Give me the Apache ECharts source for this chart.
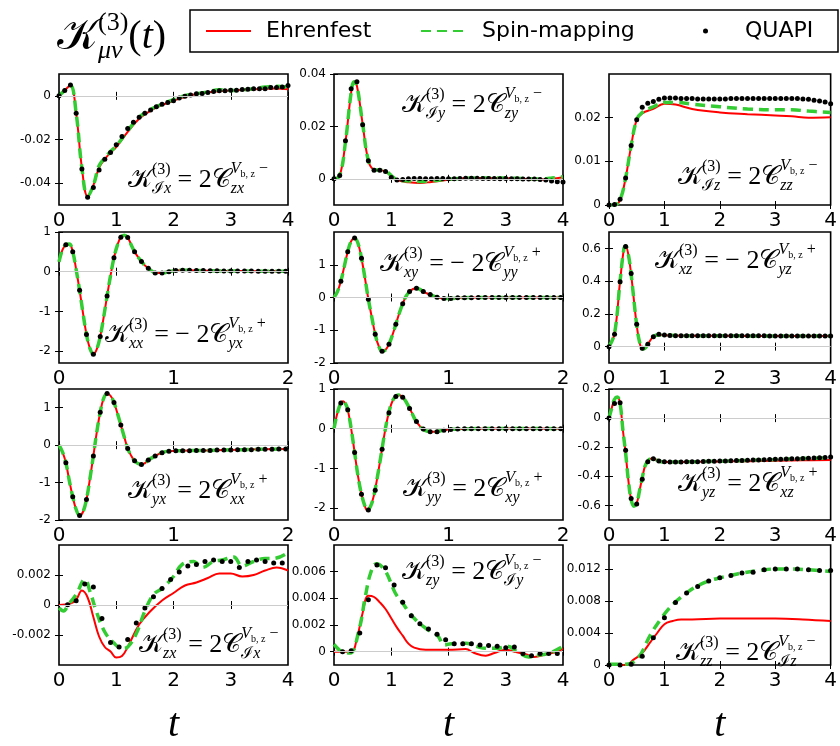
<!DOCTYPE html>
<html>
<head>
<meta charset="utf-8">
<script src="https://cdn.jsdelivr.net/npm/echarts@6/dist/echarts.min.js"></script>
<style>
  html, body { margin: 0; background: #fff; }
  #chart { width: 840px; height: 746px; }
</style>
</head>
<body>
<div id="chart"></div>
<script>
// sample times of the QUAPI points
const steps = (t0, dt, n) => Array.from({length: n}, (_, i) => +(t0 + i * dt).toFixed(2))
const tq_01 = steps(0, 0.1, 41)
const tq_06 = steps(0.06, 0.06, 33)
const tq_15 = steps(0.15, 0.15, 26)
const tq_20 = steps(0, 0.2, 21)

// ---- row 1 ----
const t_Ix = [0, 0.1, 0.2, 0.3, 0.4, 0.5, 0.6, 0.7, 0.8, 0.9, 1.0, 1.2, 1.4, 1.6, 1.8, 2.0, 2.2, 2.4, 2.6, 2.8, 3.0, 3.2, 3.4, 3.6, 3.8, 4.0]
const ehr_Ix = [0, 0.0025, 0.0048, -0.008, -0.033, -0.046, -0.041, -0.033, -0.029, -0.026, -0.0235, -0.0165, -0.0105, -0.0068, -0.0042, -0.0022, -0.0005, 0.0008, 0.0016, 0.0021, 0.0024, 0.0027, 0.003, 0.0033, 0.0034, 0.003]
const spin_Ix = [0, 0.0025, 0.0048, -0.008, -0.033, -0.046, -0.041, -0.032, -0.0285, -0.0255, -0.023, -0.016, -0.0098, -0.0062, -0.0038, -0.0018, 0.0001, 0.0009, 0.0018, 0.0028, 0.0025, 0.0027, 0.0032, 0.004, 0.0044, 0.004]
const quapi_Ix = [0, 0.0025, 0.005, -0.008, -0.0335, -0.0465, -0.042, -0.034, -0.029, -0.026,
  -0.0224, -0.0186, -0.015, -0.0121, -0.0098, -0.008, -0.0065, -0.005, -0.0039, -0.003,
  -0.0022, -0.001, -0.0002, 0.0004, 0.0009, 0.0011, 0.0015, 0.002, 0.0023, 0.0023,
  0.0026, 0.0026, 0.0029, 0.003, 0.0032, 0.0032, 0.0033, 0.0038, 0.0038, 0.0041, 0.0047]

const t_Iy = [0, 0.1, 0.2, 0.3, 0.35, 0.4, 0.5, 0.6, 0.7, 0.8, 0.9, 1.0, 1.1, 1.3, 1.5, 1.7, 2.0, 2.3, 2.6, 3.0, 3.3, 3.6, 3.8, 4.0]
const ehr_Iy = [0, 0.0012, 0.014, 0.033, 0.037, 0.0355, 0.021, 0.007, 0.0035, 0.0033, 0.0028, 0.001, -0.0005, -0.0013, -0.0016, -0.0012, -0.0004, 0.0002, 0.0003, 0.0002, 0.0, -0.0003, 0.0, 0.0006]
const spin_Iy = [0, 0.0012, 0.014, 0.033, 0.037, 0.0355, 0.021, 0.007, 0.0035, 0.0033, 0.003, 0.0012, -0.0003, -0.0008, -0.001, -0.0008, -0.0002, 0.0002, 0.0003, 0.0003, 0.0001, -0.0001, 0.0003, 0.0008]
const quapi_Iy = [0, 0.0013, 0.0145, 0.0344, 0.037, 0.0206, 0.0069, 0.0033, 0.0033, 0.0028,
  0.0005, -0.0005, -0.0003, 0, 0.0001, 0.0001, 0, 0, 0.0001, 0.0001,
  0, 0, 0.0001, 0.0002, 0.0002, 0.0002, 0.0001, 0.0001, 0.0001, 0,
  0.0001, 0, 0, -0.0001, -0.0001, -0.0001, -0.0003, -0.0005, -0.0008, -0.0011, -0.0012]

const t_Iz = [0, 0.1, 0.2, 0.3, 0.4, 0.5, 0.6, 0.8, 1.0, 1.2, 1.5, 2.0, 2.5, 3.0, 3.3, 3.6, 4.0]
const ehr_Iz = [0, 0, 0.0012, 0.0062, 0.0136, 0.0195, 0.021, 0.022, 0.0232, 0.023, 0.022, 0.0212, 0.0208, 0.0205, 0.0203, 0.02, 0.0201]
const spin_Iz = [0, 0, 0.0012, 0.0062, 0.0136, 0.0195, 0.0212, 0.0225, 0.0235, 0.0235, 0.0231, 0.0225, 0.022, 0.0218, 0.0218, 0.0215, 0.0212]
const quapi_Iz = [0, 0.0001, 0.0013, 0.0062, 0.0136, 0.0195, 0.0224, 0.0233, 0.0237, 0.0242,
  0.0245, 0.0245, 0.0245, 0.0244, 0.0244, 0.0244, 0.0243, 0.0243, 0.0243, 0.0243,
  0.0243, 0.0243, 0.0244, 0.0244, 0.0244, 0.0244, 0.0244, 0.0244, 0.0244, 0.0244,
  0.0244, 0.0244, 0.0244, 0.0244, 0.0244, 0.0243, 0.0242, 0.024, 0.0238, 0.0236, 0.0232]

// ---- row 2 ----
const t_xx = [0, 0.03, 0.06, 0.09, 0.12, 0.15, 0.18, 0.21, 0.24, 0.27, 0.3, 0.33, 0.36, 0.39, 0.42, 0.45, 0.48, 0.51, 0.54, 0.57, 0.6, 0.63, 0.66, 0.69, 0.72, 0.75, 0.78, 0.81, 0.84, 0.9, 0.96, 1.02, 1.1, 1.3, 1.6, 2.0]
const ehr_xx = [0.25, 0.55, 0.68, 0.7, 0.5, 0.05, -0.47, -1.05, -1.58, -1.93, -2.08, -1.95, -1.63, -1.15, -0.61, -0.1, 0.35, 0.67, 0.87, 0.92, 0.86, 0.68, 0.5, 0.37, 0.26, 0.16, 0.085, 0.02, -0.03, -0.03, 0, 0.03, 0.035, 0.025, 0.015, 0.01]
const spin_xx = [0.25, 0.55, 0.68, 0.7, 0.5, 0.05, -0.47, -1.05, -1.58, -1.93, -2.08, -1.95, -1.63, -1.15, -0.61, -0.1, 0.35, 0.67, 0.87, 0.92, 0.86, 0.68, 0.5, 0.37, 0.26, 0.16, 0.085, 0.02, -0.03, -0.03, 0, 0.03, 0.035, 0.025, 0.015, 0.01]
const quapi_xx = [0.68, 0.5, -0.47, -1.58, -2.08, -1.63, -0.61, 0.35, 0.87, 0.86,
  0.5, 0.26, 0.085, -0.03, -0.03, 0, 0.03, 0.035, 0.035, 0.03,
  0.03, 0.025, 0.025, 0.02, 0.02, 0.015, 0.015, 0.015, 0.01, 0.01, 0.01, 0.01, 0.01]

const t_xy = [0, 0.03, 0.06, 0.09, 0.12, 0.15, 0.18, 0.21, 0.24, 0.27, 0.3, 0.33, 0.36, 0.39, 0.42, 0.45, 0.48, 0.51, 0.54, 0.57, 0.6, 0.63, 0.66, 0.69, 0.72, 0.75, 0.78, 0.81, 0.84, 0.9, 0.96, 1.02, 1.1, 1.3, 1.6, 2.0]
const ehr_xy = [0, 0.18, 0.5, 0.95, 1.4, 1.72, 1.82, 1.65, 1.2, 0.6, -0.05, -0.6, -1.12, -1.48, -1.64, -1.6, -1.43, -1.15, -0.82, -0.48, -0.19, 0.04, 0.18, 0.26, 0.28, 0.25, 0.18, 0.13, 0.09, 0.01, -0.03, -0.03, -0.01, 0, 0, 0]
const spin_xy = [0, 0.18, 0.5, 0.95, 1.4, 1.72, 1.82, 1.65, 1.2, 0.6, -0.05, -0.6, -1.12, -1.48, -1.64, -1.6, -1.43, -1.15, -0.82, -0.48, -0.19, 0.04, 0.18, 0.26, 0.28, 0.25, 0.18, 0.13, 0.09, 0.01, -0.03, -0.03, -0.01, 0, 0, 0]
const quapi_xy = [0.5, 1.4, 1.82, 1.2, -0.05, -1.12, -1.64, -1.43, -0.82, -0.19,
  0.18, 0.28, 0.18, 0.09, 0.01, -0.03, -0.03, -0.01, -0.01, -0.005,
  0, 0, 0, 0, 0, 0, 0, 0, 0, 0, 0, 0, 0]

const t_xz = [0, 0.1, 0.2, 0.27, 0.3, 0.35, 0.4, 0.5, 0.55, 0.6, 0.65, 0.7, 0.8, 0.9, 1.0, 1.5, 2.0, 3.0, 4.0]
const ehr_xz = [0, 0.08, 0.4, 0.6, 0.615, 0.56, 0.44, 0.13, 0.03, -0.015, -0.01, 0.015, 0.06, 0.072, 0.07, 0.066, 0.066, 0.065, 0.065]
const spin_xz = [0, 0.08, 0.4, 0.6, 0.615, 0.56, 0.44, 0.13, 0.03, -0.015, -0.01, 0.015, 0.06, 0.072, 0.07, 0.066, 0.066, 0.065, 0.065]
const quapi_xz = [0, 0.075, 0.396, 0.612, 0.447, 0.137, -0.01, 0.014, 0.06, 0.075,
  0.071, 0.068, 0.067, 0.067, 0.067, 0.067, 0.067, 0.067, 0.067, 0.066,
  0.066, 0.066, 0.066, 0.066, 0.066, 0.066, 0.066, 0.066, 0.066, 0.065,
  0.065, 0.065, 0.065, 0.065, 0.065, 0.065, 0.065, 0.065, 0.065, 0.065, 0.065]

// ---- row 3 ----
const t_yx = [0, 0.03, 0.06, 0.09, 0.12, 0.15, 0.18, 0.21, 0.24, 0.27, 0.3, 0.33, 0.36, 0.39, 0.42, 0.45, 0.48, 0.51, 0.54, 0.57, 0.6, 0.63, 0.66, 0.69, 0.72, 0.75, 0.78, 0.84, 0.9, 0.96, 1.05, 1.3, 1.6, 2.0]
const ehr_yx = [0, -0.18, -0.47, -0.95, -1.38, -1.72, -1.88, -1.78, -1.45, -0.9, -0.29, 0.35, 0.88, 1.25, 1.38, 1.32, 1.14, 0.85, 0.54, 0.22, -0.09, -0.28, -0.42, -0.49, -0.52, -0.48, -0.4, -0.29, -0.2, -0.16, -0.15, -0.14, -0.12, -0.1]
const spin_yx = [0, -0.18, -0.47, -0.95, -1.38, -1.72, -1.88, -1.78, -1.45, -0.9, -0.29, 0.35, 0.88, 1.25, 1.38, 1.32, 1.14, 0.85, 0.54, 0.22, -0.09, -0.28, -0.42, -0.49, -0.52, -0.48, -0.4, -0.29, -0.2, -0.16, -0.15, -0.14, -0.12, -0.1]
const quapi_yx = [-0.47, -1.38, -1.88, -1.45, -0.29, 0.88, 1.38, 1.14, 0.54, -0.09,
  -0.42, -0.52, -0.4, -0.29, -0.2, -0.16, -0.15, -0.15, -0.15, -0.14,
  -0.14, -0.14, -0.13, -0.13, -0.13, -0.12, -0.12, -0.12, -0.11, -0.11, -0.11, -0.1, -0.1]

const t_yy = [0, 0.03, 0.06, 0.08, 0.1, 0.12, 0.15, 0.18, 0.21, 0.24, 0.27, 0.29, 0.32, 0.35, 0.38, 0.41, 0.44, 0.47, 0.5, 0.53, 0.56, 0.59, 0.62, 0.65, 0.68, 0.71, 0.74, 0.77, 0.8, 0.84, 0.89, 0.95, 1.0, 1.2, 1.5, 2.0]
const ehr_yy = [0, 0.4, 0.65, 0.69, 0.63, 0.48, 0, -0.6, -1.2, -1.65, -1.95, -2.06, -1.95, -1.66, -1.2, -0.68, -0.15, 0.3, 0.62, 0.79, 0.85, 0.82, 0.72, 0.57, 0.4, 0.22, 0.1, 0, -0.05, -0.075, -0.075, -0.04, -0.02, 0, 0.005, 0]
const spin_yy = [0, 0.4, 0.65, 0.69, 0.63, 0.48, 0, -0.6, -1.2, -1.65, -1.95, -2.06, -1.95, -1.66, -1.2, -0.68, -0.15, 0.3, 0.62, 0.79, 0.85, 0.82, 0.72, 0.57, 0.4, 0.22, 0.1, 0, -0.05, -0.075, -0.075, -0.04, -0.02, 0, 0.005, 0]
const quapi_yy = [0.65, 0.48, -0.6, -1.65, -2.05, -1.55, -0.52, 0.4, 0.81, 0.79,
  0.51, 0.18, -0.01, -0.075, -0.075, -0.04, -0.02, -0.01, 0, 0,
  0, 0, 0, 0, 0, 0, 0, 0, 0, 0, 0, 0, 0]

const t_yz = [0, 0.05, 0.1, 0.15, 0.2, 0.25, 0.3, 0.35, 0.4, 0.45, 0.5, 0.55, 0.6, 0.65, 0.7, 0.75, 0.8, 0.9, 1.0, 1.5, 2.0, 2.5, 3.0, 3.5, 4.0]
const ehr_yz = [0, 0.07, 0.13, 0.145, 0.1, -0.08, -0.24, -0.43, -0.56, -0.605, -0.585, -0.5, -0.41, -0.33, -0.295, -0.28, -0.28, -0.295, -0.302, -0.3, -0.298, -0.296, -0.293, -0.29, -0.288]
const spin_yz = [0, 0.07, 0.13, 0.145, 0.1, -0.08, -0.24, -0.43, -0.56, -0.605, -0.585, -0.5, -0.41, -0.33, -0.295, -0.28, -0.28, -0.295, -0.302, -0.3, -0.296, -0.29, -0.285, -0.278, -0.272]
const quapi_yz = [0, 0.1, 0.105, -0.22, -0.552, -0.59, -0.42, -0.3, -0.28, -0.295,
  -0.3, -0.302, -0.302, -0.301, -0.3, -0.3, -0.299, -0.298, -0.297, -0.296,
  -0.295, -0.294, -0.293, -0.292, -0.291, -0.29, -0.288, -0.287, -0.286, -0.285,
  -0.283, -0.282, -0.281, -0.28, -0.279, -0.278, -0.276, -0.274, -0.272, -0.27, -0.268]

// ---- row 4 ----
const tE_zx = [0, 0.2, 0.3, 0.4, 0.5, 0.6, 0.7, 0.8, 0.9, 1.0, 1.1, 1.2, 1.4, 1.6, 1.8, 2.0, 2.2, 2.4, 2.6, 2.8, 3.0, 3.2, 3.4, 3.6, 3.8, 4.0]
const ehr_zx = [0, 0.0001, 0.00035, 0.00096, 0.0005, -0.0008, -0.0021, -0.0028, -0.0031, -0.0035, -0.0034, -0.0028, -0.0013, -0.0004, 0.0003, 0.0008, 0.0013, 0.0015, 0.0018, 0.0021, 0.0021, 0.0019, 0.002, 0.0023, 0.0025, 0.0023]
const tS_zx = [0, 0.08, 0.16, 0.3, 0.45, 0.55, 0.65, 0.8, 0.95, 1.1, 1.2, 1.35, 1.5, 1.65, 1.8, 2.0, 2.15, 2.35, 2.5, 2.7, 2.85, 3.05, 3.2, 3.4, 3.6, 3.75, 4.0]
const spin_zx = [-0.0002, -0.0004, 0, 0.0007, 0.0017, 0.0008, -0.0004, -0.0018, -0.0025, -0.0029, -0.0028, -0.0019, -0.0004, 0.0007, 0.0011, 0.0019, 0.0027, 0.0029, 0.0025, 0.0029, 0.003, 0.0032, 0.0026, 0.0029, 0.0031, 0.0031, 0.0035]
const quapi_zx = [0.00002, 0.00029, 0.0014, 0.0012, -0.0009, -0.0025, -0.0028, -0.0023, -0.0012, -0.0002,
  0.00055, 0.0011, 0.0017, 0.0022, 0.0026, 0.0027, 0.0029, 0.003, 0.0029, 0.0029,
  0.0025, 0.0029, 0.003, 0.0029, 0.0028, 0.0028]

const tE_zy = [0, 0.3, 0.4, 0.5, 0.6, 0.7, 0.8, 0.9, 1.0, 1.1, 1.2, 1.3, 1.4, 1.6, 2.0, 2.3, 2.45, 2.65, 2.8, 3.0, 3.15, 3.35, 3.5, 3.7, 3.9, 4.0]
const ehr_zy = [0, 0, 0.001, 0.0029, 0.0042, 0.0041, 0.0037, 0.0032, 0.0025, 0.0018, 0.0012, 0.0006, 0.0003, 0.00014, 0.00014, 0.0002, -0.0001, -0.0003, -0.0001, 0.00014, 0, -0.0002, -0.0004, -0.0002, 0, 0.00025]
const tS_zy = [0, 0.09, 0.15, 0.28, 0.43, 0.55, 0.64, 0.74, 0.89, 1.07, 1.19, 1.32, 1.47, 1.62, 1.81, 1.93, 2.05, 2.17, 2.3, 2.48, 2.66, 2.85, 3.03, 3.2, 3.4, 3.52, 3.77, 4.0]
const spin_zy = [0.00055, 0.00014, 0, -0.0001, 0.0015, 0.0042, 0.0059, 0.0066, 0.0061, 0.0044, 0.0037, 0.0029, 0.0022, 0.0017, 0.0012, 0.0005, 0.0006, 0.0005, 0.00064, 0.0004, 0.00025, 0.00025, 0.0004, 0, -0.0004, -0.0003, -0.0001, 0.0004]
const quapi_zy = [0, 0.00007, 0.0014, 0.0039, 0.0065, 0.0063, 0.005, 0.0037, 0.0027, 0.0021,
  0.0017, 0.0013, 0.0009, 0.0006, 0.0006, 0.0006, 0.0005, 0.00046, 0.0004, 0.0003,
  0.00035, -0.00014, -0.0003, -0.00014, -0.00014, -0.00014]

const tE_zz = [0, 0.3, 0.45, 0.6, 0.75, 0.87, 1.0, 1.15, 1.3, 1.5, 2.0, 2.5, 3.0, 3.5, 4.0]
const ehr_zz = [0, 0, 0.0007, 0.0015, 0.0029, 0.004, 0.0051, 0.0055, 0.0057, 0.0057, 0.0058, 0.0058, 0.0058, 0.0057, 0.0055]
const tS_zz = [0, 0.3, 0.4, 0.55, 0.75, 0.93, 1.05, 1.2, 1.4, 1.6, 1.8, 2.0, 2.2, 2.4, 2.7, 3.0, 3.3, 3.6, 4.0]
const spin_zz = [0.0001, 0.0001, 0.0002, 0.0011, 0.0038, 0.0057, 0.0068, 0.0079, 0.009, 0.0099, 0.0105, 0.0109, 0.0112, 0.0115, 0.0118, 0.012, 0.012, 0.0119, 0.0117]
const quapi_zz = [0, 0, 0.0001, 0.0011, 0.0034, 0.0059, 0.0078, 0.009, 0.0098, 0.0105,
  0.0109, 0.0112, 0.0115, 0.0116, 0.0119, 0.012, 0.012, 0.012, 0.0119, 0.0118, 0.0118]

// y tick labels of each panel
const yt_Ix = [-0.04, -0.02, 0], yt_Iy = [0, 0.02, 0.04], yt_Iz = [0, 0.01, 0.02]
const yt_unit = [-2, -1, 0, 1], yt_xz = [0, 0.2, 0.4, 0.6], yt_yz = [-0.6, -0.4, -0.2, 0, 0.2]
const yt_zx = [-0.002, 0, 0.002], yt_zy = [0, 0.002, 0.004, 0.006], yt_zz = [0, 0.004, 0.008, 0.012]

const panels = [
  {xMax: 4, y: [-0.05, 0.01], yt: yt_Ix, zero: true, tE: t_Ix, e: ehr_Ix, tS: t_Ix, s: spin_Ix, tQ: tq_01, q: quapi_Ix},
  {xMax: 4, y: [-0.01, 0.04], yt: yt_Iy, zero: true, tE: t_Iy, e: ehr_Iy, tS: t_Iy, s: spin_Iy, tQ: tq_01, q: quapi_Iy},
  {xMax: 4, y: [0, 0.03], yt: yt_Iz, zero: false, tE: t_Iz, e: ehr_Iz, tS: t_Iz, s: spin_Iz, tQ: tq_01, q: quapi_Iz},
  {xMax: 2, y: [-2.3, 1], yt: yt_unit, zero: true, tE: t_xx, e: ehr_xx, tS: t_xx, s: spin_xx, tQ: tq_06, q: quapi_xx},
  {xMax: 2, y: [-2, 2], yt: yt_unit, zero: true, tE: t_xy, e: ehr_xy, tS: t_xy, s: spin_xy, tQ: tq_06, q: quapi_xy},
  {xMax: 4, y: [-0.1, 0.7], yt: yt_xz, zero: true, tE: t_xz, e: ehr_xz, tS: t_xz, s: spin_xz, tQ: tq_01, q: quapi_xz},
  {xMax: 2, y: [-2, 1.5], yt: yt_unit, zero: true, tE: t_yx, e: ehr_yx, tS: t_yx, s: spin_yx, tQ: tq_06, q: quapi_yx},
  {xMax: 2, y: [-2.3, 1], yt: yt_unit, zero: true, tE: t_yy, e: ehr_yy, tS: t_yy, s: spin_yy, tQ: tq_06, q: quapi_yy},
  {xMax: 4, y: [-0.7, 0.2], yt: yt_yz, zero: true, tE: t_yz, e: ehr_yz, tS: t_yz, s: spin_yz, tQ: tq_01, q: quapi_yz},
  {xMax: 4, y: [-0.004, 0.004], yt: yt_zx, zero: true, tE: tE_zx, e: ehr_zx, tS: tS_zx, s: spin_zx, tQ: tq_15, q: quapi_zx},
  {xMax: 4, y: [-0.001, 0.008], yt: yt_zy, zero: true, tE: tE_zy, e: ehr_zy, tS: tS_zy, s: spin_zy, tQ: tq_15, q: quapi_zy},
  {xMax: 4, y: [0, 0.015], yt: yt_zz, zero: false, tE: tE_zz, e: ehr_zz, tS: tS_zz, s: spin_zz, tQ: tq_20, q: quapi_zz}
]

// panel labels: K subscript, sign, C subscript, sign of V, left x, centre y
const notes = [
  ['ℐx', '', 'zx', '−', 128, 180], ['ℐy', '', 'zy', '−', 402, 105], ['ℐz', '', 'zz', '−', 678, 177],
  ['xx', '−', 'yx', '+', 105, 335], ['xy', '−', 'yy', '+', 380, 264], ['xz', '−', 'yz', '+', 655, 261],
  ['yx', '', 'xx', '+', 128, 491], ['yy', '', 'xy', '+', 403, 489], ['yz', '', 'xz', '+', 678, 484],
  ['zx', '', 'ℐx', '−', 139, 645], ['zy', '', 'ℐy', '−', 402, 572], ['zz', '', 'ℐz', '−', 676, 653]
]

const RED = '#ff0000', GREEN = '#33cc33'
const SERIF = '"Liberation Serif", "DejaVu Serif", serif'
const LEFT = [59, 334, 609], TOP = [74, 232, 389, 545], W = 229, H = 131

const pairs = (ts, vs) => ts.map((t, i) => [t, vs[i]])

// small math typesetter made of graphic texts
const ctx = document.createElement('canvas').getContext('2d')
const mathText = (x, yc, items) => {
  const els = []
  const place = (runs, x0) => {
    let px = x0
    runs.forEach(r => {
      const style = r.i ? 'italic' : 'normal'
      ctx.font = `${style} ${r.s}px ${SERIF}`
      els.push({
        type: 'text', x: px, y: yc + (r.dy || 0), silent: true,
        style: {text: r.t, fontSize: r.s, fontFamily: SERIF, fontStyle: style, fill: '#000', verticalAlign: 'middle'}
      })
      px += ctx.measureText(r.t).width
    })
    return px
  }
  let cx = x
  items.forEach(it => {
    cx = it.sup ? Math.max(place(it.sup, cx), place(it.sub, cx)) : place([it], cx)
  })
  return els
}
const subRuns = (str, s, dy) => str[0] === 'ℐ'
  ? [{t: 'ℐ', s, dy}, {t: str.slice(1), s, i: true, dy}]
  : [{t: str, s, i: true, dy}]

const noteEls = ([a, neg, b, pm, x, yc]) => mathText(x, yc, [
  {t: '𝒦', s: 26},
  {sup: [{t: '(3)', s: 16, dy: -10}], sub: subRuns(a, 16, 9)},
  {t: neg ? ' = − 2' : ' = 2', s: 26},
  {t: '𝒞', s: 26},
  {sup: [{t: 'V', s: 16, i: true, dy: -11}, {t: 'b, z', s: 10, dy: -6}, {t: ' ' + pm, s: 16, dy: -11}], sub: subRuns(b, 16, 9)}
])

const grid = [], xAxis = [], yAxis = [], series = []
panels.forEach((p, i) => {
  const r = Math.floor(i / 3), c = i % 3
  grid.push({left: LEFT[c], top: TOP[r], width: W, height: H, show: true, borderColor: '#000', borderWidth: 1.6, backgroundColor: 'transparent'})

  const tick = {inside: true, length: 4, lineStyle: {color: '#000', width: 1}}
  const xBase = {
    type: 'value', gridIndex: i, min: 0, max: p.xMax, interval: p.xMax === 2 ? 0.5 : 1,
    axisLine: {show: false}, splitLine: {show: false}, axisTick: tick
  }
  xAxis.push({
    ...xBase, position: 'bottom',
    axisLabel: {
      fontSize: 20, color: '#000', fontFamily: 'DejaVu Sans', margin: 6,
      showMinLabel: true, showMaxLabel: true,
      formatter: v => (v % 1 === 0 ? String(v) : '')
    },
    ...(r === 3 ? {
      name: 't', nameLocation: 'middle', nameGap: 40,
      nameTextStyle: {fontSize: 40, fontStyle: 'italic', fontFamily: SERIF, color: '#000'}
    } : {})
  })
  xAxis.push({...xBase, position: 'top', axisLabel: {show: false}})

  const yBase = {
    type: 'value', gridIndex: i, min: p.y[0], max: p.y[1],
    axisLine: {show: false}, splitLine: {show: false},
    axisTick: {...tick, customValues: p.yt}
  }
  yAxis.push({
    ...yBase, position: 'left',
    axisLabel: {fontSize: 12, color: '#000', fontFamily: 'DejaVu Sans', margin: 8, customValues: p.yt}
  })
  yAxis.push({...yBase, position: 'right', axisLabel: {show: false}})

  const ax = {xAxisIndex: 2 * i, yAxisIndex: 2 * i}
  if (p.zero) {
    series.push({
      name: 'zero', type: 'line', ...ax, data: [], silent: true, z: 1,
      markLine: {
        silent: true, symbol: 'none', label: {show: false}, animation: false,
        lineStyle: {color: '#cccccc', width: 1, type: 'solid'}, data: [{yAxis: 0}]
      }
    })
  }
  series.push({
    name: 'Ehrenfest', type: 'line', ...ax, data: pairs(p.tE, p.e), smooth: 0.4,
    symbol: 'none', lineStyle: {color: RED, width: 2}, itemStyle: {color: RED}, z: 2
  })
  series.push({
    name: 'Spin-mapping', type: 'line', ...ax, data: pairs(p.tS, p.s), smooth: 0.4,
    symbol: 'none', lineStyle: {color: GREEN, width: 3.5, type: [10, 6]}, itemStyle: {color: GREEN}, z: 3
  })
  series.push({
    name: 'QUAPI', type: 'scatter', ...ax, data: pairs(p.tQ, p.q),
    symbolSize: 5, itemStyle: {color: '#000', opacity: 1}, z: 4
  })
})

const legendText = {fontSize: 22, fontFamily: 'DejaVu Sans', color: '#000', padding: [0, 0, 0, 10]}
const chart = echarts.init(document.getElementById('chart'))
chart.setOption({
  animation: false,
  backgroundColor: '#fff',
  legend: [
    {data: ['Ehrenfest'], left: 200, top: 15, itemWidth: 45, itemHeight: 14, itemStyle: {opacity: 0}, textStyle: legendText},
    {data: ['Spin-mapping'], left: 415, top: 15, itemWidth: 45, itemHeight: 14, itemStyle: {opacity: 0}, textStyle: {...legendText, padding: [0, 0, 0, 11]}},
    {data: [{name: 'QUAPI', icon: 'circle'}], left: 698, top: 15, itemWidth: 45, itemHeight: 5, itemStyle: {opacity: 1}, textStyle: {...legendText, padding: [0, 0, 0, 12]}}
  ],
  grid, xAxis, yAxis, series,
  graphic: {
    elements: [
      {type: 'rect', shape: {x: 190, y: 10, width: 648, height: 42}, style: {fill: 'none', stroke: '#000', lineWidth: 1.5}, silent: true},
      ...mathText(57, 37, [
        {t: '𝒦', s: 44},
        {sup: [{t: '(3)', s: 26, dy: -14}], sub: [{t: 'μν', s: 26, i: true, dy: 14}]},
        {t: '(', s: 40}, {t: 't', s: 40, i: true}, {t: ')', s: 40}
      ]),
      ...notes.flatMap(noteEls)
    ]
  }
})
</script>
</body>
</html>
